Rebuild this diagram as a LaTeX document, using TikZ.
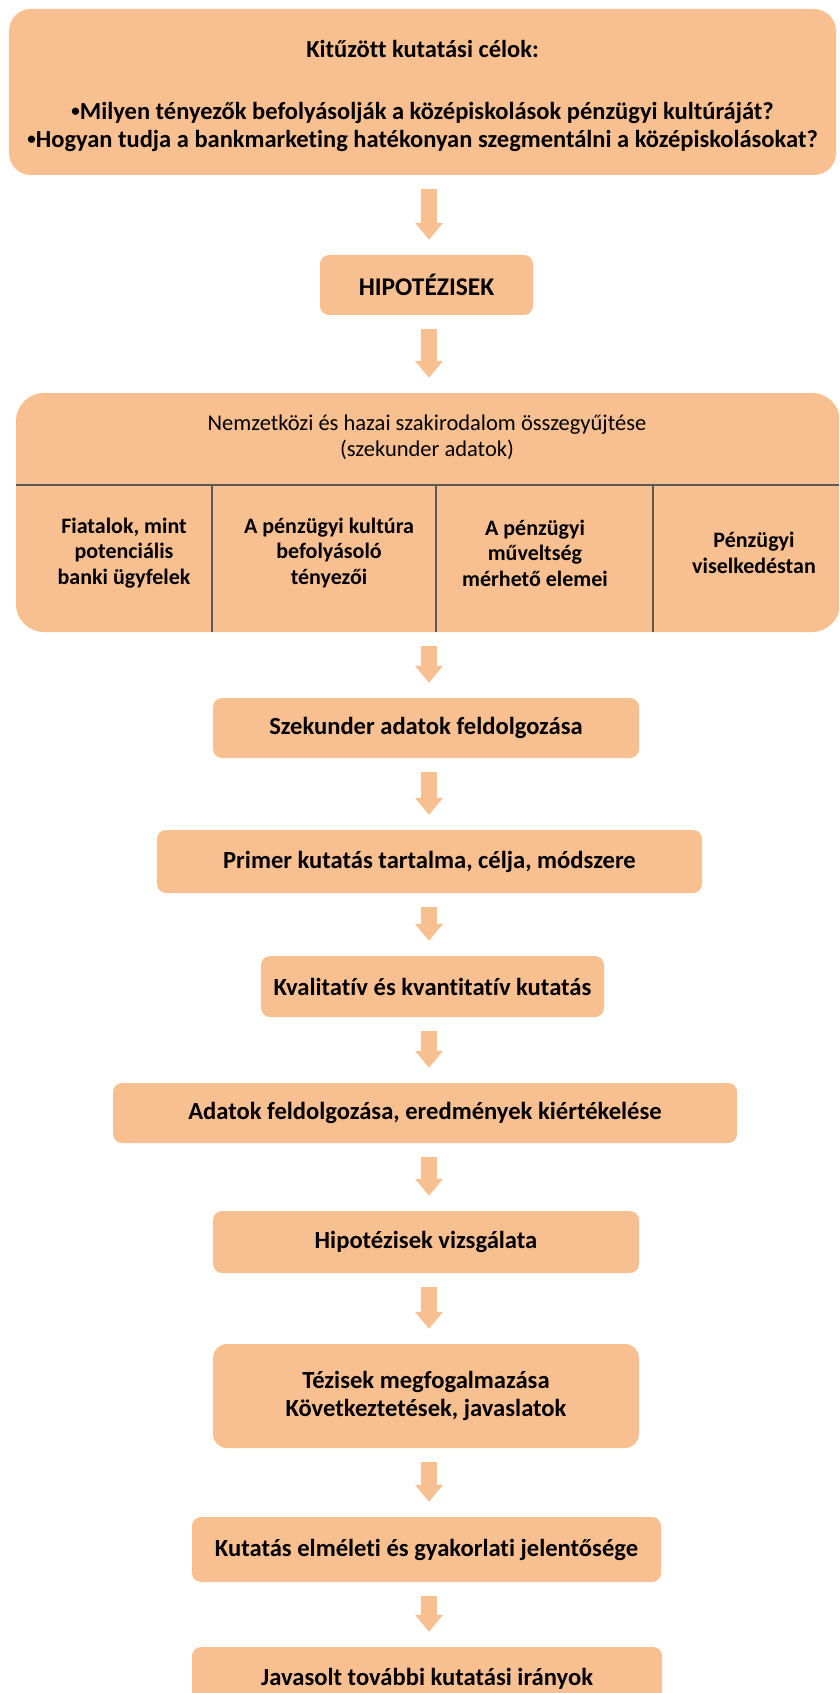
\documentclass[tikz,border=0pt]{standalone}
\usepackage{fontspec}
\setmainfont{Carlito}[Ligatures=NoCommon]
\usetikzlibrary{arrows.meta,calc}
\definecolor{peach}{RGB}{248,192,144}
\definecolor{gridc}{RGB}{89,89,89}
\newcommand{\smbul}{\raisebox{3.5pt}{\fontsize{17}{17}\selectfont•}}
\tikzset{
  box/.style={rectangle, rounded corners=9pt, fill=peach, inner sep=0pt, align=center, font=\bfseries\fontsize{24.6}{28}\selectfont},
  flowarrow/.style={draw=peach, line width=16pt, -{Triangle[width=27pt,length=17pt]}},
  gridline/.style={draw=gridc, line width=1.2pt},
  celltext/.style={align=center, inner sep=0pt, font=\bfseries\fontsize{22}{25.5}\selectfont},
}
\begin{document}
\begin{tikzpicture}[x=1pt,y=-1pt]
\useasboundingbox (0,0) rectangle (839,1693);
\clip (0,0) rectangle (839,1693);
% nodes
\node[box, rounded corners=22pt, minimum width=827pt, minimum height=166pt] (top) at (422.5,92) {};
\node[align=center, inner sep=0pt, font=\bfseries\fontsize{24.5}{28}\selectfont] (toptext) at (422.5,96)
  {Kitűzött kutatási célok:\\[34pt]\smbul Milyen tényezők befolyásolják a középiskolások pénzügyi kultúráját?\\\smbul Hogyan tudja a bankmarketing hatékonyan szegmentálni a középiskolásokat?};
\node[box, minimum width=213pt, minimum height=60pt, font=\bfseries\fontsize{25.5}{28}\selectfont] (hyp) at (426.5,285) {HIPOTÉZISEK};
\node[box, rounded corners=28pt, minimum width=824pt, minimum height=239pt] (lit) at (428,512.5) {};
\node[align=center, inner sep=0pt, font=\fontsize{22.5}{26}\selectfont] (lithead) at (427,437)
  {Nemzetközi és hazai szakirodalom összegyűjtése\\(szekunder adatok)};
\coordinate (hl) at (0,485);
\coordinate (v1) at (212,0);
\coordinate (v2) at (436,0);
\coordinate (v3) at (653,0);
\draw[gridline] (lit.west |- hl) -- (lit.east |- hl);
\draw[gridline] (v1 |- hl) -- (v1 |- lit.south);
\draw[gridline] (v2 |- hl) -- (v2 |- lit.south);
\draw[gridline] (v3 |- hl) -- (v3 |- lit.south);
\node[celltext] (c1) at (124,553) {Fiatalok, mint\\potenciális\\banki ügyfelek};
\node[celltext] (c2) at (329,553) {A pénzügyi kultúra\\befolyásoló\\tényezői};
\node[celltext] (c3) at (535,553) {A pénzügyi\\műveltség\\mérhető elemei};
\node[celltext] (c4) at (754,553) {Pénzügyi\\viselkedéstan};
\node[box, minimum width=426pt, minimum height=60pt] (szek) at (426,728) {Szekunder adatok feldolgozása};
\node[box, minimum width=545pt, minimum height=63pt] (prim) at (429.5,861.5) {Primer kutatás tartalma, célja, módszere};
\node[box, minimum width=343pt, minimum height=61pt] (kval) at (432.5,986.5) {Kvalitatív és kvantitatív kutatás};
\node[box, minimum width=624pt, minimum height=60pt] (adat) at (425,1113) {Adatok feldolgozása, eredmények kiértékelése};
\node[box, minimum width=426pt, minimum height=62pt] (hipv) at (426,1242) {Hipotézisek vizsgálata};
\node[box, rounded corners=14pt, minimum width=426pt, minimum height=104pt] (tez) at (426,1396) {Tézisek megfogalmazása\\Következtetések, javaslatok};
\node[box, minimum width=469pt, minimum height=65pt] (jel) at (426.5,1549.5) {Kutatás elméleti és gyakorlati jelentősége};
\node[box, minimum width=470pt, minimum height=63pt] (jav) at (427,1678.5) {Javasolt további kutatási irányok};
% arrows
\coordinate (ax) at (429,0);
\foreach \a/\b in {top/hyp, hyp/lit, lit/szek, szek/prim, prim/kval, kval/adat, adat/hipv, hipv/tez, tez/jel, jel/jav}{
  \draw[flowarrow] ($(\a.south -| ax)+(0,14)$) -- ($(\b.north -| ax)+(0,-15)$);
}
\end{tikzpicture}
\end{document}
